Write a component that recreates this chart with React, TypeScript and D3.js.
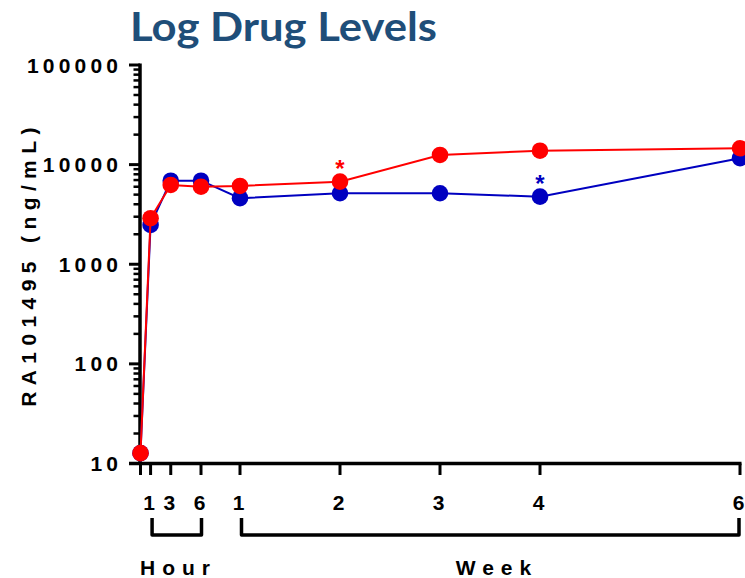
import React from "react";
import * as d3 from "d3";

// Sampling times in hours (0, 1, 3, 6 h, then weeks 1, 2, 3, 4, 6)
const timeHours = [0, 1, 3, 6, 168, 336, 504, 672, 1008];
// Drug level (ng/mL) per group
const blueLevels = [12.7, 2480, 6900, 6900, 4600, 5160, 5160, 4770, 11600];
const redLevels = [12.7, 2900, 6250, 6000, 6110, 6750, 12500, 13800, 14600];

// Axis ticks
const yTicks = [10, 100, 1000, 10000, 100000];
const hourTicks = [1, 3, 6];
const weekTicks = [1, 2, 3, 4, 6];

// Significance markers: [series, time in hours]
const starMarks: { series: "blue" | "red"; t: number }[] = [
  { series: "red", t: 336 },
  { series: "blue", t: 672 },
];

const W = 745;
const H = 578;
const BLUE = "#0000c0";
const RED = "#ff0000";
const AXIS_FONT = "'Liberation Sans', Arial, sans-serif";
const FS = 21;

export default function App() {
  const x = d3
    .scaleLinear()
    .domain([0, 6, 168, 1008])
    .range([140.5, 201, 240, 740]);
  const y = d3.scaleLog().domain([10, 100000]).range([463.5, 65]);

  const line = d3
    .line<number>()
    .x((_, i) => x(timeHours[i]))
    .y((v) => y(v));

  // minor ticks between decades
  const minor: number[] = [];
  for (let d = 10; d < 100000; d *= 10) {
    for (let k = 2; k <= 9; k++) minor.push(d * k);
  }

  const series = [
    { key: "blue", color: BLUE, values: blueLevels },
    { key: "red", color: RED, values: redLevels },
  ];

  const axisX = 140;
  const axisY = 463.5;
  const ls = 4.2;

  return (
    <div style={{ position: "fixed", left: 0, top: 0, width: W, height: H, overflow: "hidden", background: "#fff" }}>
      <svg width={W} height={H} style={{ display: "block" }}>
        <text
          x={130}
          y={41}
          fontFamily="Lato, 'Open Sans', sans-serif"
          fontWeight={700}
          fontSize={40}
          textLength={307}
          lengthAdjust="spacingAndGlyphs"
          fill="#1f4e79"
        >
          Log Drug Levels
        </text>

        {/* y axis */}
        <line x1={axisX} x2={axisX} y1={y(100000) - 1.5} y2={axisY} stroke="#000" strokeWidth={3.5} />
        {yTicks.map((t) => (
          <g key={t}>
            <line x1={129} x2={axisX} y1={y(t)} y2={y(t)} stroke="#000" strokeWidth={3} />
            <text
              x={118 + ls}
              y={y(t)}
              dy="0.36em"
              textAnchor="end"
              fontFamily={AXIS_FONT}
              fontWeight={700}
              fontSize={FS}
              letterSpacing={ls}
              fill="#000"
            >
              {t}
            </text>
          </g>
        ))}
        {minor.map((t) => (
          <line key={t} x1={133.5} x2={axisX} y1={y(t)} y2={y(t)} stroke="#000" strokeWidth={2.5} />
        ))}
        <text
          transform={`translate(36,264) rotate(-90)`}
          textAnchor="middle"
          fontFamily={AXIS_FONT}
          fontWeight={700}
          fontSize={FS}
          letterSpacing={6.4}
          fill="#000"
        >
          RA101495 (ng/mL)
        </text>

        {/* x axis */}
        <line x1={129} x2={741.5} y1={axisY} y2={axisY} stroke="#000" strokeWidth={3.5} />
        {[0, ...hourTicks].map((h) => (
          <line key={"h" + h} x1={x(h)} x2={x(h)} y1={axisY} y2={475} stroke="#000" strokeWidth={3} />
        ))}
        {weekTicks.map((w) => (
          <line key={"w" + w} x1={x(w * 168)} x2={x(w * 168)} y1={axisY} y2={475} stroke="#000" strokeWidth={3} />
        ))}
        {hourTicks.map((h) => (
          <text
            key={"hl" + h}
            x={x(h) - 1.5}
            y={510}
            textAnchor="middle"
            fontFamily={AXIS_FONT}
            fontWeight={700}
            fontSize={FS}
            fill="#000"
          >
            {h}
          </text>
        ))}
        {weekTicks.map((w) => (
          <text
            key={"wl" + w}
            x={x(w * 168) - 1.5}
            y={510}
            textAnchor="middle"
            fontFamily={AXIS_FONT}
            fontWeight={700}
            fontSize={FS}
            fill="#000"
          >
            {w}
          </text>
        ))}

        {/* group brackets */}
        <path
          d={`M${x(1) + 1.5},518 V535 H${x(6) + 0.5} V518`}
          fill="none"
          stroke="#000"
          strokeWidth={3.5}
          strokeLinejoin="round"
        />
        <path
          d={`M${x(168) + 1.5},518 V535 H${x(1008) - 1} V518`}
          fill="none"
          stroke="#000"
          strokeWidth={3.5}
          strokeLinejoin="round"
        />
        <text
          x={175 + 3.5}
          y={575}
          textAnchor="middle"
          fontFamily={AXIS_FONT}
          fontWeight={700}
          fontSize={FS}
          letterSpacing={7}
          fill="#000"
        >
          Hour
        </text>
        <text
          x={493.5 + 3.5}
          y={575}
          textAnchor="middle"
          fontFamily={AXIS_FONT}
          fontWeight={700}
          fontSize={FS}
          letterSpacing={7}
          fill="#000"
        >
          Week
        </text>

        {/* series */}
        {series.map((s) => (
          <g key={s.key}>
            <path d={line(s.values) || ""} fill="none" stroke={s.color} strokeWidth={2} />
            {s.values.map((v, i) => (
              <circle key={i} cx={x(timeHours[i])} cy={y(v)} r={8.3} fill={s.color} />
            ))}
          </g>
        ))}

        {starMarks.map((m, i) => {
          const s = series.find((q) => q.key === m.series)!;
          const v = s.values[timeHours.indexOf(m.t)];
          return (
            <text
              key={i}
              x={x(m.t)}
              y={y(v) - 5}
              textAnchor="middle"
              fontFamily={AXIS_FONT}
              fontWeight={700}
              fontSize={24}
              fill={s.color}
            >
              *
            </text>
          );
        })}
      </svg>
    </div>
  );
}
